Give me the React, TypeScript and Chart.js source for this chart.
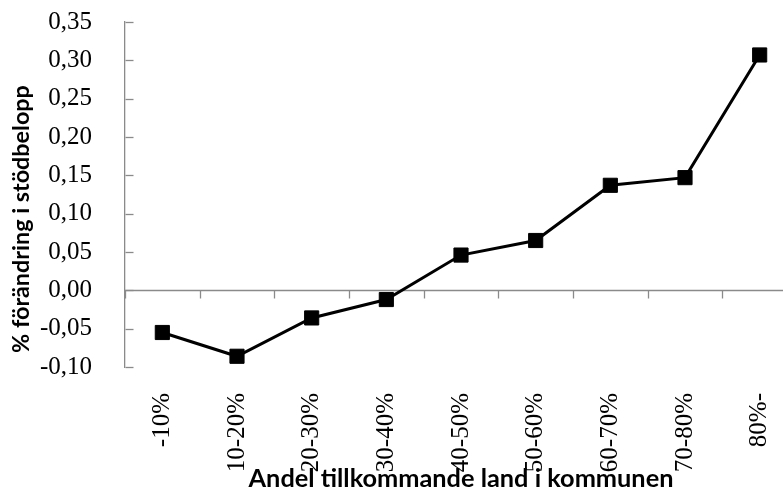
import React, { useEffect, useRef } from "react";
import { Chart, registerables } from "chart.js";

Chart.register(...registerables);

const categories = ["-10%", "10-20%", "20-30%", "30-40%", "40-50%", "50-60%", "60-70%", "70-80%", "80%-"];
const values = [-0.055, -0.086, -0.036, -0.012, 0.046, 0.065, 0.137, 0.147, 0.307];
const yMin = -0.1;
const yMax = 0.35;
const yStep = 0.05;
const xTitle = "Andel tillkommande land i kommunen";
const yTitle = "% förändring i stödbelopp";

const AXIS_COLOR = "#8a8a8a";
const TITLE_FONT = "Lato, 'Open Sans', 'DejaVu Sans', sans-serif";
const TICK_FONT = "'Liberation Serif', 'Times New Roman', serif";

function fitFont(ctx: CanvasRenderingContext2D, text: string, target: number) {
  ctx.font = `bold 20px ${TITLE_FONT}`;
  const w = ctx.measureText(text).width;
  return (20 * target) / w;
}

const axesPlugin = {
  id: "excelAxes",
  beforeDatasetsDraw(chart: any) {
    const { ctx, chartArea, scales } = chart;
    const x = scales.x;
    const y = scales.y;
    ctx.save();
    ctx.strokeStyle = AXIS_COLOR;
    ctx.lineWidth = 1.3;
    const y0 = Math.round(y.getPixelForValue(0)) + 0.5;
    ctx.beginPath();
    ctx.moveTo(chartArea.left, y0);
    ctx.lineTo(chartArea.right, y0);
    ctx.stroke();
    const n = categories.length;
    const half = (x.getPixelForValue(1) - x.getPixelForValue(0)) / 2;
    for (let i = 0; i <= n; i++) {
      const px = i < n ? x.getPixelForValue(i) - half : x.getPixelForValue(n - 1) + half;
      const rx = Math.round(px) + 0.5;
      ctx.beginPath();
      ctx.moveTo(rx, y0);
      ctx.lineTo(rx, y0 + 8);
      ctx.stroke();
    }
    const ax = Math.round(chartArea.left) + 0.5;
    y.ticks.forEach((t: any) => {
      const py = Math.round(y.getPixelForValue(t.value)) + 0.5;
      ctx.beginPath();
      ctx.moveTo(ax, py);
      ctx.lineTo(ax + 8, py);
      ctx.stroke();
    });
    ctx.restore();
  },
  afterDraw(chart: any) {
    const { ctx, chartArea } = chart;
    ctx.save();
    ctx.fillStyle = "#000";
    ctx.textAlign = "center";
    ctx.textBaseline = "alphabetic";
    const fx = fitFont(ctx, xTitle, 425);
    ctx.font = `bold ${fx}px ${TITLE_FONT}`;
    ctx.fillText(xTitle, (chartArea.left + chartArea.right) / 2, 487);
    const fy = fitFont(ctx, yTitle, 268);
    ctx.font = `bold ${fy}px ${TITLE_FONT}`;
    ctx.translate(29, 219);
    ctx.rotate(-Math.PI / 2);
    ctx.fillText(yTitle, 0, 0);
    ctx.restore();
  },
};

export default function App() {
  const ref = useRef<HTMLCanvasElement | null>(null);
  useEffect(() => {
    if (!ref.current) return;
    const chart = new Chart(ref.current, {
      type: "line",
      data: {
        labels: categories,
        datasets: [
          {
            data: values,
            borderColor: "#000",
            backgroundColor: "#000",
            borderWidth: 3,
            pointStyle: "rect",
            pointRadius: 10,
            pointBorderWidth: 1,
            pointBackgroundColor: "#000",
            pointBorderColor: "#000",
            tension: 0,
          },
        ],
      },
      options: {
        animation: false,
        responsive: false,
        layout: { padding: { left: 0, top: 22, right: 33, bottom: 0 } },
        plugins: { legend: { display: false }, tooltip: { enabled: false }, title: { display: false } },
        scales: {
          x: {
            type: "category",
            offset: true,
            grid: { display: false },
            border: { display: false },
            ticks: {
              color: "#000",
              font: { family: TICK_FONT, size: 25 },
              minRotation: 90,
              maxRotation: 90,
              padding: 18,
              autoSkip: false,
            },
            afterFit: (s: any) => {
              s.height = 130;
            },
          },
          y: {
            min: yMin,
            max: yMax,
            grid: { display: false },
            border: { display: true, color: AXIS_COLOR, width: 1.3 },
            ticks: {
              stepSize: yStep,
              color: "#000",
              padding: 25,
              font: { family: TICK_FONT, size: 25 },
              callback: (v: any) => {
                const n = Math.abs(Number(v)) < 1e-9 ? 0 : Number(v);
                return n.toFixed(2).replace(".", ",");
              },
            },
            afterFit: (s: any) => {
              s.width = 125;
              s.paddingTop = 10;
              s.paddingBottom = 10;
            },
          },
        },
      },
      plugins: [axesPlugin],
    });
    return () => chart.destroy();
  }, []);
  return (
    <div style={{ position: "fixed", left: 0, top: 0, width: 783, height: 497, overflow: "hidden", background: "#fff" }}>
      <canvas ref={ref} width={830} height={497} style={{ display: "block" }} />
    </div>
  );
}
